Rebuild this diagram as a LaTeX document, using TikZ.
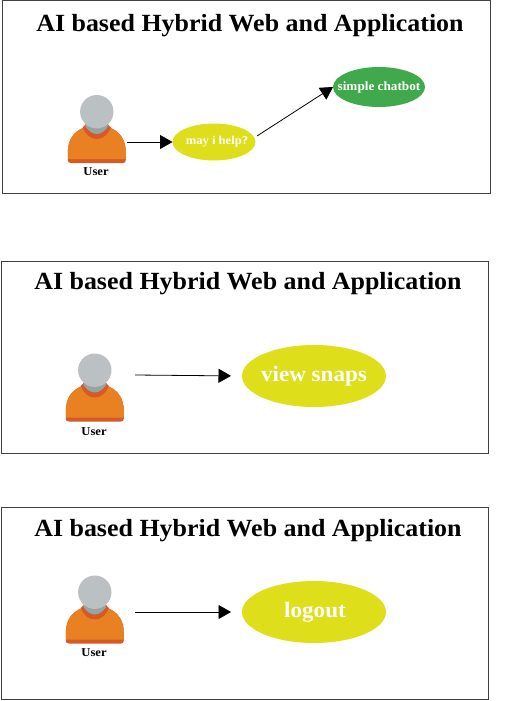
\documentclass[tikz,border=0pt]{standalone}
\usepackage{fontspec}
\setmainfont{Liberation Serif}[FakeStretch=1.05]
\usetikzlibrary{arrows.meta,shapes.geometric}
\definecolor{frameC}{HTML}{404040}
\definecolor{skin}{HTML}{BBC0C3}
\definecolor{neck}{HTML}{95A5A5}
\definecolor{shirt}{HTML}{E98123}
\definecolor{shirtD}{HTML}{D55A26}
\definecolor{yel}{HTML}{DEDE1A}
\definecolor{grn}{HTML}{3FA94B}
\tikzset{
  frameBox/.style={draw=frameC,line width=.8pt,fill=white},
  titleText/.style={font=\bfseries\fontsize{24.7}{27}\selectfont,text=black,inner sep=0pt},
  userText/.style={font=\bfseries\fontsize{12}{14}\selectfont,text=black,inner sep=0pt},
  blob/.style={ellipse,fill=#1,text=white,inner sep=-20pt,outer sep=0pt,font=\bfseries},
  conn/.style={line width=.8pt,draw=black,-{Triangle[length=12.5pt,width=14pt]}},
  pics/person/.style={code={
    \fill[shirtD] (-29,-10) .. controls (-29,-24) and (-23,-31) .. (-13,-35.5) -- (13,-35.5) .. controls (23,-31) and (29,-24) .. (29,-10)
       -- (29,-3) .. controls (29,-1) and (28,0) .. (26,0) -- (-26,0) .. controls (-28,0) and (-29,-1) .. (-29,-3) -- cycle;
    \fill[shirt] (-29,-10) .. controls (-29,-24) and (-23,-31) .. (-13,-35.5) -- (13,-35.5) .. controls (23,-31) and (29,-24) .. (29,-10)
       -- (29,-4) -- (-29,-4) -- cycle;
    \fill[shirtD] (-14,-35.5) .. controls (-11,-28) and (-6,-24) .. (0,-24) .. controls (6,-24) and (11,-28) .. (14,-35.5) -- (10,-40) -- (-10,-40) -- cycle;
    \fill[neck] (-11.5,-37) .. controls (-8.5,-32) and (-4,-29) .. (0,-29) .. controls (4,-29) and (8.5,-32) .. (11.5,-37) -- (8,-44) -- (-8,-44) -- cycle;
    \fill[skin] (0,-51.3) circle (16.7);
  }}
}
\begin{document}
\begin{tikzpicture}[x=1pt,y=-1pt]
\useasboundingbox (0,0) rectangle (513,701);
% panel 1
\draw[frameBox] (2,0.5) rectangle (490.5,193);
\node[titleText] (title1) at (250,26) {AI based Hybrid Web and Application};
\pic at (96.8,163) {person};
\node[userText] (user1) at (96,171.5) {User};
\coordinate (from1) at (127,142);
\node[blob=yel,minimum width=83pt,minimum height=37pt,font=\bfseries\fontsize{12}{14}\selectfont] (ask) at (214,142) {\hspace*{6pt}\raisebox{-1pt}{may i help?}};
\node[blob=grn,minimum width=92pt,minimum height=40pt,font=\bfseries\fontsize{12.6}{14}\selectfont] (chat) at (379,87) {\raisebox{-1pt}{simple chatbot}};
\draw[conn] (from1) -- (ask.west);
\coordinate (from1b) at (257,136);
\draw[conn] (from1b) -- (chat.west);
% panel 2
\draw[frameBox] (1,261) rectangle (488.5,453);
\node[titleText] (title2) at (248,284) {AI based Hybrid Web and Application};
\pic at (94.8,421.5) {person};
\node[userText] (user2) at (94,431.5) {User};
\coordinate (from2) at (135,375);
\node[blob=yel,minimum width=144pt,minimum height=62pt,font=\bfseries\fontsize{22}{25}\selectfont] (snaps) at (314,376) {\raisebox{-1pt}{view snaps}};
\draw[conn,shorten >=11pt] (from2) -- (snaps.west);
% panel 3
\draw[frameBox] (1,507) rectangle (488.5,699);
\node[titleText] (title3) at (248,531) {AI based Hybrid Web and Application};
\pic at (94.8,643.5) {person};
\node[userText] (user3) at (94,652.5) {User};
\coordinate (from3) at (135,612);
\node[blob=yel,minimum width=144pt,minimum height=62pt,font=\bfseries\fontsize{22}{25}\selectfont] (logout) at (314,612) {\hspace*{2pt}\raisebox{-1pt}{logout}};
\draw[conn,shorten >=11pt] (from3) -- (logout.west);
\end{tikzpicture}
\end{document}
